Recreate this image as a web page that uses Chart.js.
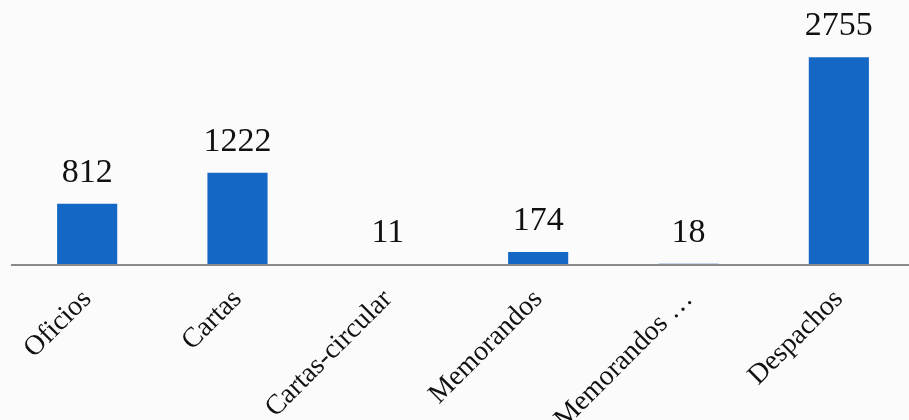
<!DOCTYPE html>
<html>
<head>
<meta charset="utf-8">
<script src="https://cdn.jsdelivr.net/npm/chart.js@4"></script>
<style>
    html, body { margin: 0; padding: 0; overflow: hidden; background: #fbfbfb; }
    #wrap { width: 914px; height: 420px; }
</style>
</head>
<body>
<div id="wrap"><canvas id="docChart" width="914" height="420"></canvas></div>
<script>
// document counts per type
const categories = ['Oficios', 'Cartas', 'Cartas-circular', 'Memorandos', 'Memorandos …', 'Despachos'];
const counts = [812, 1222, 11, 174, 18, 2755];

const serif = '"Liberation Serif", "DejaVu Serif", serif';

// numbers printed above each bar
const valueLabels = {
    id: 'valueLabels',
    afterDatasetsDraw(chart) {
        const ctx = chart.ctx;
        const meta = chart.getDatasetMeta(0);
        ctx.save();
        ctx.font = '34px ' + serif;
        ctx.fillStyle = '#111';
        ctx.textAlign = 'center';
        ctx.textBaseline = 'alphabetic';
        meta.data.forEach((bar, i) => {
            ctx.fillText(String(counts[i]), bar.x, bar.y - 22);
        });
        ctx.restore();
    }
};

new Chart(document.getElementById('docChart').getContext('2d'), {
    type: 'bar',
    data: {
        labels: categories,
        datasets: [{
            data: counts,
            backgroundColor: '#1567c6',
            barPercentage: 0.8,
            categoryPercentage: 0.5
        }]
    },
    options: {
        responsive: false,
        animation: false,
        layout: { padding: { left: 12, right: 0, top: 1, bottom: 0 } },
        plugins: {
            legend: { display: false },
            tooltip: { enabled: false }
        },
        scales: {
            x: {
                grid: { display: false },
                // baseline drawn on top of the bars
                border: { display: true, color: '#8a8a8a', width: 2, z: 1 },
                ticks: {
                    color: '#111',
                    font: { family: serif, size: 28 },
                    minRotation: 45,
                    maxRotation: 45,
                    padding: 10
                },
                afterFit(scale) { scale.height = 155; }
            },
            y: {
                display: false,
                min: 0,
                max: 3500
            }
        }
    },
    plugins: [valueLabels]
});
</script>
</body>
</html>
